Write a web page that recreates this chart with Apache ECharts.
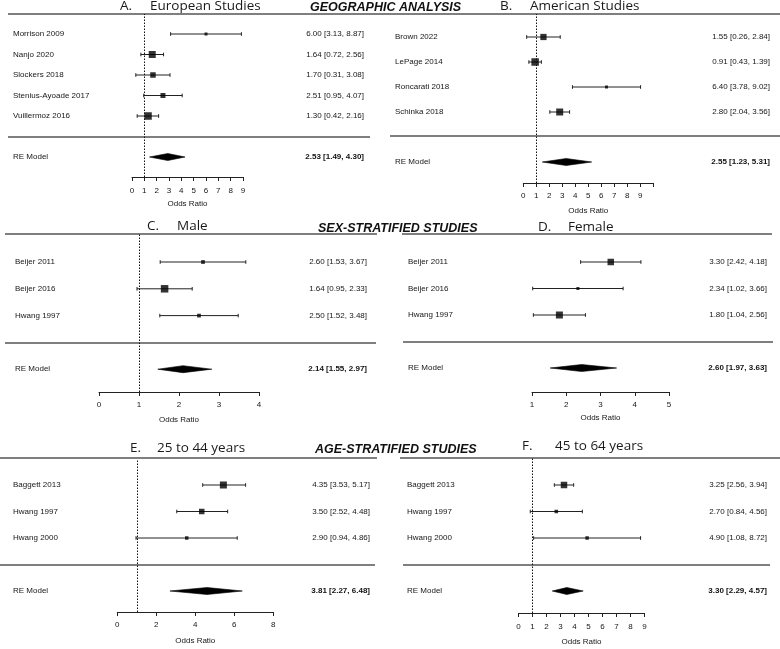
<!DOCTYPE html>
<html>
<head>
<meta charset="utf-8">
<script src="https://cdn.jsdelivr.net/npm/echarts@6/dist/echarts.min.js"></script>
<style>html,body{margin:0;padding:0;background:#fff}#c{width:780px;height:649px}</style>
</head>
<body>
<div id="c"></div>
<script>
// ---------- DATA ----------
// A. European Studies
const A_studies = ['Morrison 2009', 'Nanjo 2020', 'Slockers 2018', 'Stenius-Ayoade 2017', 'Vuillermoz 2016'];
const A_est = [6.00, 1.64, 1.70, 2.51, 1.30];
const A_lo = [3.13, 0.72, 0.31, 0.95, 0.42];
const A_hi = [8.87, 2.56, 3.08, 4.07, 2.16];
const A_weight = [0.1, 0.9, 0.6, 0.5, 1.0];
const A_text = ['6.00 [3.13, 8.87]', '1.64 [0.72, 2.56]', '1.70 [0.31, 3.08]', '2.51 [0.95, 4.07]', '1.30 [0.42, 2.16]'];
const A_re = [1.42, 2.90, 4.30];
const A_reText = '2.53 [1.49, 4.30]';

// B. American Studies
const B_studies = ['Brown 2022', 'LePage 2014', 'Roncarati 2018', 'Schinka 2018'];
const B_est = [1.55, 0.91, 6.40, 2.80];
const B_lo = [0.26, 0.43, 3.78, 2.04];
const B_hi = [2.84, 1.39, 9.02, 3.56];
const B_weight = [0.75, 1.0, 0.1, 0.9];
const B_text = ['1.55 [0.26, 2.84]', '0.91 [0.43, 1.39]', '6.40 [3.78, 9.02]', '2.80 [2.04, 3.56]'];
const B_re = [1.46, 3.30, 5.26];
const B_reText = '2.55 [1.23, 5.31]';

// C. Male
const C_studies = ['Beijer 2011', 'Beijer 2016', 'Hwang 1997'];
const C_est = [2.60, 1.64, 2.50];
const C_lo = [1.53, 0.95, 1.52];
const C_hi = [3.67, 2.33, 3.48];
const C_weight = [0.25, 1.0, 0.25];
const C_text = ['2.60 [1.53, 3.67]', '1.64 [0.95, 2.33]', '2.50 [1.52, 3.48]'];
const C_re = [1.47, 2.10, 2.82];
const C_reText = '2.14 [1.55, 2.97]';

// D. Female
const D_studies = ['Beijer 2011', 'Beijer 2016', 'Hwang 1997'];
const D_est = [3.30, 2.34, 1.80];
const D_lo = [2.42, 1.02, 1.04];
const D_hi = [4.18, 3.66, 2.56];
const D_weight = [0.8, 0.1, 0.9];
const D_text = ['3.30 [2.42, 4.18]', '2.34 [1.02, 3.66]', '1.80 [1.04, 2.56]'];
const D_re = [1.53, 2.45, 3.47];
const D_reText = '2.60 [1.97, 3.63]';

// E. 25 to 44 years (marks as drawn in the picture)
const E_studies = ['Baggett 2013', 'Hwang 1997', 'Hwang 2000'];
const E_est = [5.44, 4.33, 3.56];
const E_lo = [4.38, 3.05, 0.96];
const E_hi = [6.58, 5.66, 6.15];
const E_weight = [0.9, 0.6, 0.2];
const E_text = ['4.35 [3.53, 5.17]', '3.50 [2.52, 4.48]', '2.90 [0.94, 4.86]'];
const E_re = [2.70, 4.60, 6.41];
const E_reText = '3.81 [2.27, 6.48]';

// F. 45 to 64 years
const F_studies = ['Baggett 2013', 'Hwang 1997', 'Hwang 2000'];
const F_est = [3.25, 2.70, 4.90];
const F_lo = [2.56, 0.84, 1.08];
const F_hi = [3.94, 4.56, 8.72];
const F_weight = [0.8, 0.2, 0.2];
const F_text = ['3.25 [2.56, 3.94]', '2.70 [0.84, 4.56]', '4.90 [1.08, 8.72]'];
const F_re = [2.41, 3.45, 4.62];
const F_reText = '3.30 [2.29, 4.57]';

const REF_VALUE = 1;

// ---------- LAYOUT ----------
const panels = [
  {studies: A_studies, est: A_est, lo: A_lo, hi: A_hi, w: A_weight, text: A_text, re: A_re, reText: A_reText,
   axis: {min: 0, max: 9, interval: 1}, ref: true,
   L: {left: 132, width: 111, rowTop: 23.75, rowStep: 20.5, top: 14, axisY: 177, nameX: 13, textEnd: 364, lblMargin: 10, nameGap: 23}},
  {studies: B_studies, est: B_est, lo: B_lo, hi: B_hi, w: B_weight, text: B_text, re: B_re, reText: B_reText,
   axis: {min: 0, max: 10, interval: 1, hideMax: true}, ref: true,
   L: {left: 523.3, width: 130, rowTop: 24.5, rowStep: 25, top: 14, axisY: 183, nameX: 395, textEnd: 770, lblMargin: 9, nameGap: 24}},
  {studies: C_studies, est: C_est, lo: C_lo, hi: C_hi, w: C_weight, text: C_text, re: C_re, reText: C_reText,
   axis: {min: 0, max: 4, interval: 1}, ref: true,
   L: {left: 99, width: 160, rowTop: 248.6, rowStep: 26.8, top: 234, axisY: 392, nameX: 15, textEnd: 367, lblMargin: 9, nameGap: 24}},
  {studies: D_studies, est: D_est, lo: D_lo, hi: D_hi, w: D_weight, text: D_text, re: D_re, reText: D_reText,
   axis: {min: 1, max: 5, interval: 1}, ref: false,
   L: {left: 532, width: 137, rowTop: 248.75, rowStep: 26.5, top: 235, axisY: 392, nameX: 408, textEnd: 767, lblMargin: 9, nameGap: 22}},
  {studies: E_studies, est: E_est, lo: E_lo, hi: E_hi, w: E_weight, text: E_text, re: E_re, reText: E_reText,
   axis: {min: 0, max: 8, interval: 2}, ref: true,
   L: {left: 117.3, width: 156, rowTop: 471.75, rowStep: 26.5, top: 459, axisY: 612, nameX: 13, textEnd: 370, lblMargin: 9, nameGap: 25}},
  {studies: F_studies, est: F_est, lo: F_lo, hi: F_hi, w: F_weight, text: F_text, re: F_re, reText: F_reText,
   axis: {min: 0, max: 9, interval: 1}, ref: true,
   L: {left: 518.5, width: 126, rowTop: 471.75, rowStep: 26.5, top: 458, axisY: 613, nameX: 407, textEnd: 767, lblMargin: 10, nameGap: 25}}
];

const SMALL_FONT = 'Liberation Sans, Arial, sans-serif';
const TXT = '#161616';

const grid = [], xAxis = [], yAxis = [], series = [];

function ciRender(params, api) {
  const a = api.coord([api.value(0), api.value(2)]);
  const b = api.coord([api.value(1), api.value(2)]);
  const c = 1.8;
  const st = {stroke: '#222', lineWidth: 1};
  return {type: 'group', children: [
    {type: 'line', shape: {x1: a[0], y1: a[1], x2: b[0], y2: b[1]}, style: st},
    {type: 'line', shape: {x1: a[0], y1: a[1] - c, x2: a[0], y2: a[1] + c}, style: st},
    {type: 'line', shape: {x1: b[0], y1: b[1] - c, x2: b[0], y2: b[1] + c}, style: st}
  ]};
}
function diamondRender(params, api) {
  const row = api.value(3);
  const l = api.coord([api.value(0), row]);
  const m = api.coord([api.value(1), row]);
  const r = api.coord([api.value(2), row]);
  const h = 3.5;
  return {type: 'polygon', shape: {points: [[l[0], l[1]], [m[0], m[1] - h], [r[0], r[1]], [m[0], m[1] + h]]},
          style: {fill: '#000', stroke: '#000', lineWidth: 0.6}};
}

panels.forEach((p) => {
  const L = p.L;
  const n = p.studies.length;
  const rows = n + 2;
  const gL = grid.length;
  grid.push({left: L.left, width: L.width, top: L.rowTop, height: rows * L.rowStep, containLabel: false, outerBoundsMode: 'none'});
  const gR = grid.length;
  grid.push({left: L.left, width: L.width, top: L.top, height: L.axisY - L.top, containLabel: false, outerBoundsMode: 'none'});

  const xL = xAxis.length;
  xAxis.push({gridIndex: gL, type: 'value', min: p.axis.min, max: p.axis.max, show: false});
  const xR = xAxis.length;
  xAxis.push({
    gridIndex: gR, type: 'value', min: p.axis.min, max: p.axis.max, interval: p.axis.interval,
    position: 'bottom',
    axisLine: {show: true, onZero: false, lineStyle: {color: '#222', width: 1}},
    axisTick: {show: true, length: 4, lineStyle: {color: '#222', width: 1}},
    splitLine: {show: false},
    axisLabel: {fontSize: 8, color: TXT, fontFamily: SMALL_FONT, margin: L.lblMargin,
      formatter: (v) => (p.axis.hideMax && v === p.axis.max) ? '' : String(v)},
    name: 'Odds Ratio', nameLocation: 'middle', nameGap: L.nameGap,
    nameTextStyle: {fontSize: 8, color: TXT, fontFamily: SMALL_FONT}
  });

  const yLeft = yAxis.length;
  yAxis.push({
    gridIndex: gL, type: 'category', inverse: true, position: 'left',
    data: [...p.studies, '', 'RE Model'],
    axisLine: {show: false}, axisTick: {show: false}, splitLine: {show: false},
    axisLabel: {interval: 0, align: 'left', margin: L.left - L.nameX, fontSize: 8, color: TXT, fontFamily: SMALL_FONT}
  });
  yAxis.push({
    gridIndex: gL, type: 'category', inverse: true, position: 'right',
    data: [...p.text, '', p.reText],
    axisLine: {show: false}, axisTick: {show: false}, splitLine: {show: false},
    axisLabel: {interval: 0, align: 'right', margin: L.textEnd - (L.left + L.width), fontSize: 8, color: TXT, fontFamily: SMALL_FONT,
      formatter: (v, i) => i === rows - 1 ? '{b|' + v + '}' : v,
      rich: {b: {fontSize: 8, fontWeight: 'bold', color: '#111', fontFamily: SMALL_FONT}}}
  });
  const yR = yAxis.length;
  yAxis.push({gridIndex: gR, type: 'value', min: 0, max: 1, show: false});

  series.push({
    type: 'custom', xAxisIndex: xL, yAxisIndex: yLeft, renderItem: ciRender,
    encode: {x: [0, 1], y: 2},
    data: p.studies.map((s, i) => [p.lo[i], p.hi[i], i]), silent: true
  });
  series.push({
    type: 'scatter', xAxisIndex: xL, yAxisIndex: yLeft, symbol: 'rect',
    symbolSize: (val, prm) => 2.5 + 5 * p.w[prm.dataIndex],
    itemStyle: {color: '#000'},
    data: p.est.map((v, i) => [v, i]), silent: true
  });
  series.push({
    type: 'custom', xAxisIndex: xL, yAxisIndex: yLeft, renderItem: diamondRender,
    encode: {x: [0, 1, 2], y: 3},
    data: [[p.re[0], p.re[1], p.re[2], n + 1]], silent: true
  });
  if (p.ref) {
    series.push({
      type: 'line', xAxisIndex: xR, yAxisIndex: yR, data: [], silent: true,
      markLine: {silent: true, symbol: ['none', 'none'], label: {show: false},
        lineStyle: {type: [1.5, 1.5], color: '#111', width: 1},
        data: [{xAxis: REF_VALUE}]}
    });
  }
});

// ---------- TITLES AND RULES ----------
const TITLE_FONT = '"Open Sans", "Noto Sans", sans-serif';
const HEAD_FONT = 'bold italic 12.5px "Liberation Sans", Arial, sans-serif';
function title(x, y, t) {
  return {type: 'text', left: x, top: y - 9, style: {text: t, font: '13.5px ' + TITLE_FONT, fill: '#1a1a1a'}};
}
function head(x, y, t) {
  return {type: 'text', left: x, top: y - 7, style: {text: t, font: HEAD_FONT, fill: '#111'}};
}
function rule(x1, x2, y) {
  return {type: 'line', shape: {x1: x1, y1: y, x2: x2, y2: y}, style: {stroke: '#555', lineWidth: 1.3}};
}
const graphic = [
  rule(8, 780, 14), rule(5, 377, 234), rule(402, 772, 234), rule(0, 377, 458), rule(400, 780, 458),
  rule(8, 370, 137), rule(390, 780, 136), rule(5, 376, 343), rule(403, 773, 342), rule(0, 375, 565), rule(403, 770, 565),
  title(120, 8, 'A.'), title(150, 8, 'European Studies'),
  title(500, 8, 'B.'), title(530, 8, 'American Studies'),
  title(147, 228, 'C.'), title(177, 228, 'Male'),
  title(538, 229, 'D.'), title(568, 229, 'Female'),
  title(130, 450, 'E.'), title(157, 450, '25 to 44 years'),
  title(522, 448, 'F.'), title(555, 448, '45 to 64 years'),
  head(310, 8, 'GEOGRAPHIC ANALYSIS'),
  head(318, 229, 'SEX-STRATIFIED STUDIES'),
  head(315, 450, 'AGE-STRATIFIED STUDIES')
];

const chart = echarts.init(document.getElementById('c'), null, {renderer: 'canvas'});
chart.setOption({
  animation: false,
  backgroundColor: '#fff',
  grid, xAxis, yAxis, series, graphic
});
</script>
</body>
</html>
